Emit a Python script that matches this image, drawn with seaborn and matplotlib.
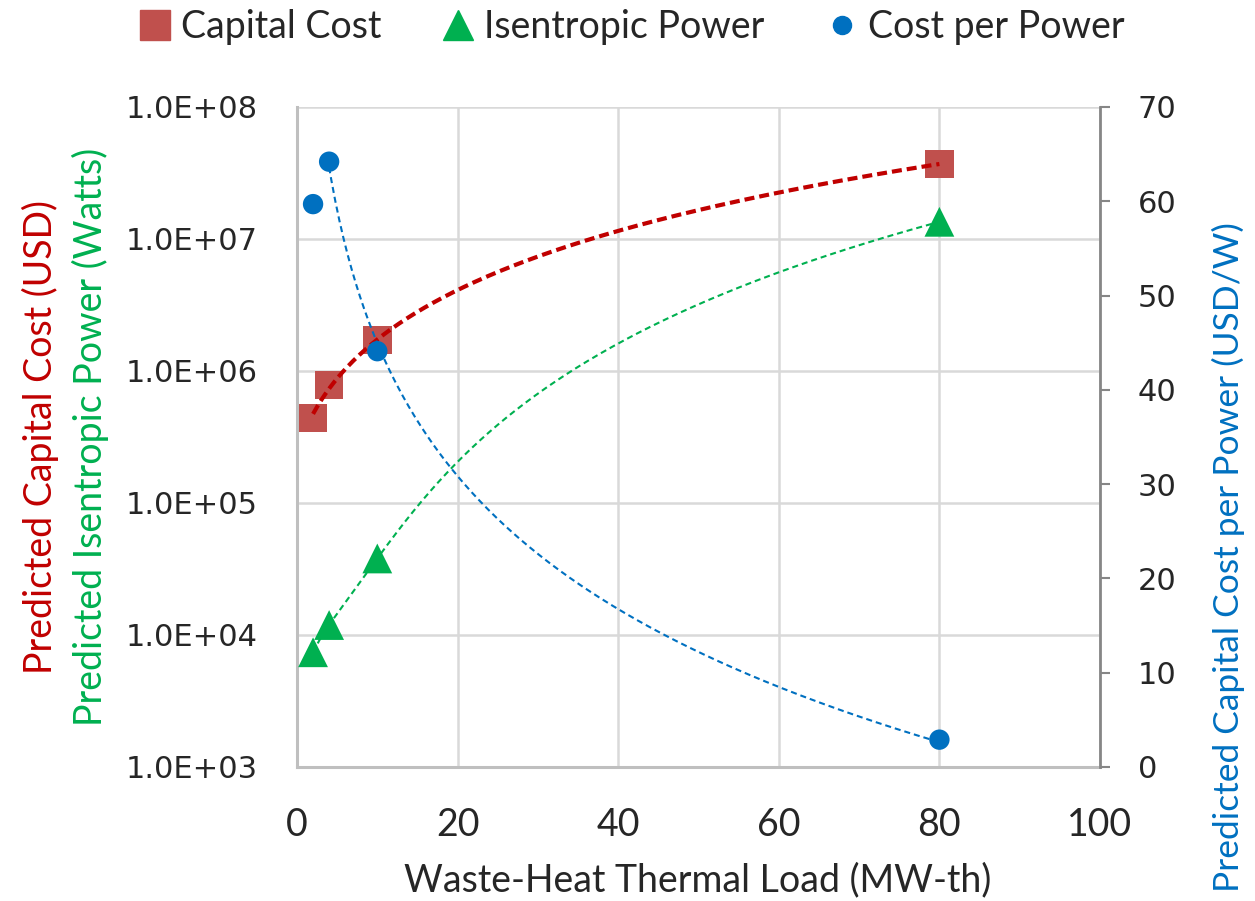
import numpy as np
import pandas as pd
import matplotlib
matplotlib.use("Agg")
import matplotlib.pyplot as plt
from matplotlib.lines import Line2D
from matplotlib.ticker import FuncFormatter, FixedLocator, NullLocator
import seaborn as sns

# ---- data ----
thermal_load = [2, 4, 10, 80]                      # MW-th
capital_cost = [4.4e5, 7.8e5, 1.72e6, 3.7e7]       # USD
isentropic_power = [7.4e3, 1.19e4, 3.8e4, 1.35e7]  # W
cost_per_power = [59.7, 64.2, 44.1, 2.9]           # USD/W

series_labels = ["Capital Cost", "Isentropic Power", "Cost per Power"]
x_ticks = [0, 20, 40, 60, 80, 100]
left_ticks = [1e3, 1e4, 1e5, 1e6, 1e7, 1e8]
right_ticks = [0, 10, 20, 30, 40, 50, 60, 70]

C_RED_M = "#C0504D"
C_RED_L = "#C00000"
C_GRN = "#00B050"
C_BLU = "#0070C0"

sns.set_style("white")
plt.rcParams["font.family"] = ["Lato", "DejaVu Sans"]

df = pd.DataFrame({"x": thermal_load, "cost": capital_cost,
                   "power": isentropic_power, "cpp": cost_per_power})

# trendlines fitted from the data
xa = np.array(thermal_load, dtype=float)
xr = np.linspace(xa.min(), xa.max(), 300)
red_fit = np.polyval(np.polyfit(xa, df["cost"].values, 2), xr)
grn_fit = np.polyval(np.polyfit(xa, df["power"].values, 3), xr)
xb = np.linspace(xa[1], xa.max(), 300)
blu_coef = np.polyfit(np.log(xa[1:]), df["cpp"].values[1:], 1)
blu_fit = np.polyval(blu_coef, np.log(xb))

fig = plt.figure(figsize=(12.55, 9.01), dpi=100)
ax1 = fig.add_axes([297/1255, 1-767/901, (1100-297)/1255, (767-107)/901])
ax2 = ax1.twinx()

ax1.set_yscale("log")
ax1.set_xlim(0, 100)
ax1.set_ylim(1e3, 1e8)
ax2.set_ylim(0, 70)

# markers
sns.scatterplot(data=df, x="x", y="cost", ax=ax1, marker="s", s=420,
                color=C_RED_M, edgecolor="none", zorder=3, legend=False)
sns.scatterplot(data=df, x="x", y="power", ax=ax1, marker="^", s=460,
                color=C_GRN, edgecolor="none", zorder=3, legend=False)
# trendlines
sns.lineplot(x=xr, y=red_fit, ax=ax1, color=C_RED_L, linewidth=3.0,
             linestyle=(0, (2.4, 1.2)), estimator=None, sort=False, zorder=4)
sns.lineplot(x=xr, y=grn_fit, ax=ax1, color=C_GRN, linewidth=1.5,
             linestyle=(0, (2.9, 1.9)), estimator=None, sort=False, zorder=4)

sns.scatterplot(data=df, x="x", y="cpp", ax=ax2, marker="o", s=215,
                color=C_BLU, edgecolor="none", zorder=3, legend=False)
sns.lineplot(x=xb, y=blu_fit, ax=ax2, color=C_BLU, linewidth=1.5,
             linestyle=(0, (2.9, 1.9)), estimator=None, sort=False, zorder=4)

# axes styling
ax1.set_xticks(x_ticks)
ax1.yaxis.set_major_locator(FixedLocator(left_ticks))
ax1.yaxis.set_minor_locator(NullLocator())
ax1.yaxis.set_major_formatter(FuncFormatter(lambda v, p: f"{v:.1E}"))
ax1.grid(True, which="major", color="#D9D9D9", linewidth=1.8)
ax1.set_axisbelow(True)
ax1.tick_params(axis="x", length=0, pad=29, labelsize=27)
ax1.tick_params(axis="y", length=0, pad=28, labelsize=22)
for lab in ax1.get_yticklabels():
    lab.set_family("DejaVu Sans")
ax1.set_xlabel("")
ax1.set_ylabel("")

ax2.set_yticks(right_ticks)
ax2.tick_params(axis="y", length=7, width=1.5, color="#868686", pad=20,
                labelsize=22, direction="out")
for lab in ax2.get_yticklabels():
    lab.set_family("DejaVu Sans")
ax2.set_ylabel("")
ax2.grid(False)

for sp in ["top"]:
    ax1.spines[sp].set_visible(False)
    ax2.spines[sp].set_visible(False)
for sp in ["left", "bottom"]:
    ax1.spines[sp].set_color("#BFBFBF")
    ax1.spines[sp].set_linewidth(2.2)
    ax2.spines[sp].set_visible(False)
ax1.spines["right"].set_visible(False)
ax2.spines["right"].set_color("#868686")
ax2.spines["right"].set_linewidth(2.0)

# axis titles
fig.text(40/1255, 1-437/901, "Predicted Capital Cost (USD)", rotation=90,
         ha="center", va="center", color=C_RED_L, fontsize=27)
fig.text(90/1255, 1-437/901, "Predicted Isentropic Power (Watts)", rotation=90,
         ha="center", va="center", color=C_GRN, fontsize=27)
fig.text(1228/1255, 1-222/901, "Predicted Capital Cost per Power (USD/W)",
         rotation=90, ha="center", va="top", color=C_BLU, fontsize=25.5)
fig.text(698/1255, 1-880/901, "Waste-Heat Thermal Load (MW-th)",
         ha="center", va="center", color="#262626", fontsize=27)

# legend
handles = [
    Line2D([], [], marker="s", linestyle="none", markersize=21, color=C_RED_M),
    Line2D([], [], marker="^", linestyle="none", markersize=22, color=C_GRN),
    Line2D([], [], marker="o", linestyle="none", markersize=13, color=C_BLU),
]
fig.legend(handles, series_labels, loc="center", bbox_to_anchor=(631/1255, 1-27/901),
           ncol=3, frameon=False, fontsize=27, handlelength=0.9, handletextpad=0.25,
           columnspacing=1.6, borderaxespad=0, borderpad=0)

fig.savefig("out.png", dpi=100)
